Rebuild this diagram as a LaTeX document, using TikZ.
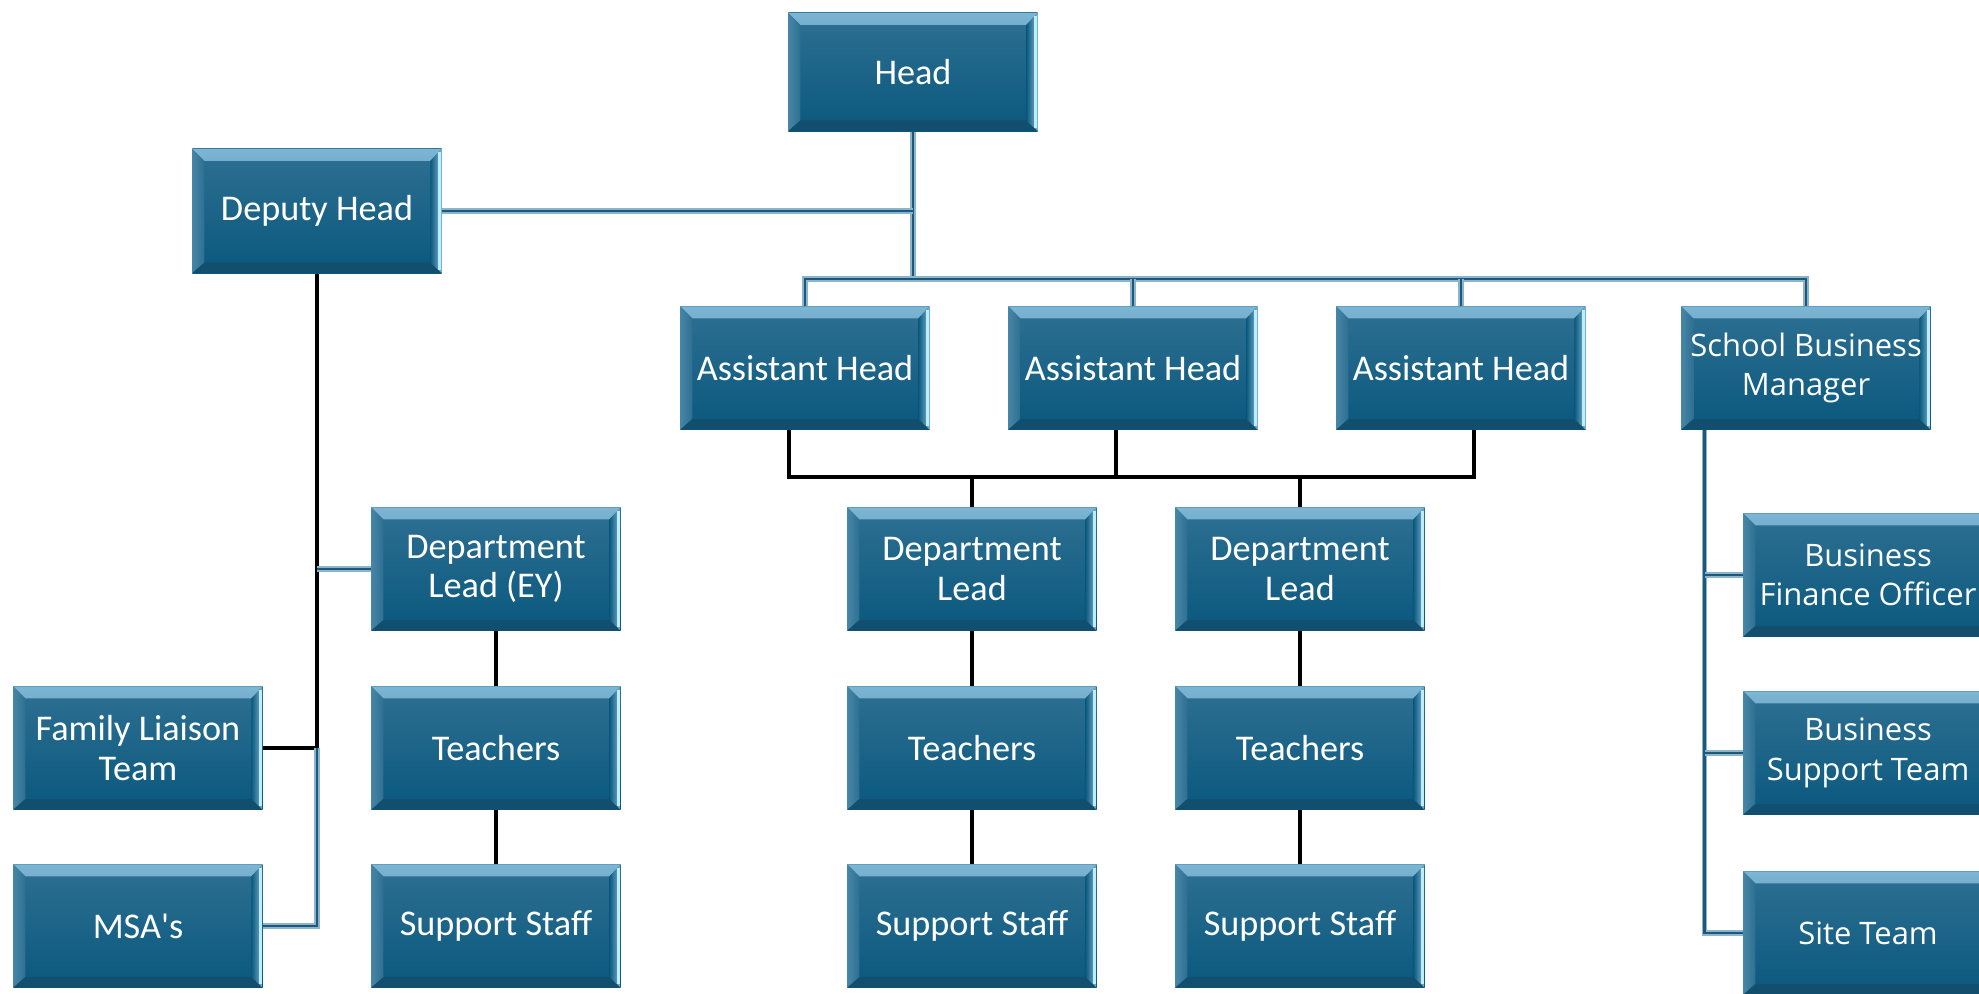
\documentclass[tikz,border=0pt]{standalone}
\usepackage{fontspec}
\newfontfamily\orgfont{Carlito}
\newfontfamily\sbmfont{Open Sans}

\definecolor{boxtop}{RGB}{46,112,146}
\definecolor{boxbot}{RGB}{10,88,126}
\definecolor{bevlight}{RGB}{125,182,212}
\definecolor{bevedge}{RGB}{190,236,248}
\definecolor{bevdark}{RGB}{18,78,110}
\definecolor{linkteal}{RGB}{28,88,124}
\definecolor{linkpale}{RGB}{140,180,202}

\tikzset{
  orgbox/.style={rectangle, minimum width=2.49cm, minimum height=1.23cm,
    inner sep=0pt, align=center, text=white,
    font=\orgfont\fontsize{10.3}{11.2}\selectfont,
    top color=boxtop, bottom color=boxbot,
    path picture={
      % top bevel
      \shade[top color=bevlight, bottom color=boxtop]
        (path picture bounding box.north west) -- (path picture bounding box.north east)
        -- ([xshift=-3.2pt,yshift=-3.4pt]path picture bounding box.north east)
        -- ([xshift=3.4pt,yshift=-3.4pt]path picture bounding box.north west) -- cycle;
      % left bevel
      \shade[left color=boxtop!70!bevlight, right color=boxtop]
        (path picture bounding box.north west) -- ([xshift=3.4pt,yshift=-3.4pt]path picture bounding box.north west)
        -- ([xshift=3.4pt,yshift=3pt]path picture bounding box.south west)
        -- (path picture bounding box.south west) -- cycle;
      % bottom bevel
      \fill[bevdark]
        (path picture bounding box.south west) -- (path picture bounding box.south east)
        -- ([xshift=-3.2pt,yshift=3pt]path picture bounding box.south east)
        -- ([xshift=3.4pt,yshift=3pt]path picture bounding box.south west) -- cycle;
      % right bevel
      \shade[left color=boxbot, right color=bevlight]
        (path picture bounding box.north east) -- (path picture bounding box.south east)
        -- ([xshift=-3.2pt,yshift=3pt]path picture bounding box.south east)
        -- ([xshift=-3.2pt,yshift=-3.4pt]path picture bounding box.north east) -- cycle;
      \draw[bevedge, line width=0.9pt]
        ([xshift=-0.6pt,yshift=-1pt]path picture bounding box.north east)
        -- ([xshift=-0.6pt,yshift=1pt]path picture bounding box.south east);
    }},
  sbmbox/.style={orgbox, font=\sbmfont\fontsize{8.8}{11.2}\selectfont},
  tealline/.style={draw=linkpale, double=linkteal, double distance=0.75pt, line width=0.35pt},
  blackline/.style={draw=black, line width=1.05pt},
}

\begin{document}
\begin{tikzpicture}[x=0.01cm, y=-0.01cm]
  \useasboundingbox (0,0) rectangle (1979,993);
  \clip (0,0) rectangle (1979,993);

  % top of the tree
  \node[orgbox, minimum height=1.18cm] (head) at (913,72) {Head};
  \node[orgbox, minimum height=1.24cm] (deputy) at (317,211) {Deputy Head};

  % assistant heads and business manager
  \node[orgbox] (ahA) at (805,368) {Assistant Head};
  \node[orgbox] (ahB) at (1133,368) {Assistant Head};
  \node[orgbox] (ahC) at (1461,368) {Assistant Head};
  \node[sbmbox] (sbm) at (1806,368) {School Business\\Manager};

  % department leads
  \node[orgbox] (dlEY) at (496,569) {Department\\Lead (EY)};
  \node[orgbox] (dlA) at (972,569) {Department\\Lead};
  \node[orgbox] (dlB) at (1300,569) {Department\\Lead};

  % teachers and support staff
  \node[orgbox] (tchEY) at (496,748) {Teachers};
  \node[orgbox] (tchA) at (972,748) {Teachers};
  \node[orgbox] (tchB) at (1300,748) {Teachers};
  \node[orgbox] (ssEY) at (496,926) {Support Staff};
  \node[orgbox] (ssA) at (972,926) {Support Staff};
  \node[orgbox] (ssB) at (1300,926) {Support Staff};

  % under the deputy
  \node[orgbox] (fam) at (138,748) {Family Liaison\\Team};
  \node[orgbox] (msa) at (138,926) {MSA's};

  % business side
  \node[sbmbox] (bfo) at (1868,575) {Business\\Finance Officer};
  \node[sbmbox] (bst) at (1868,753) {Business\\Support Team};
  \node[sbmbox] (site) at (1868,933) {Site Team};

  \coordinate (topbus) at (913,279);
  \coordinate (lowbus) at (789,477);

  % head links
  \draw[tealline] (head) -- (topbus);
  \draw[tealline] (deputy.east) -- (deputy.east -| head);
  \draw[tealline] (ahA.north) -- (ahA.north |- topbus) -- (sbm.north |- topbus) -- (sbm.north);
  \draw[tealline] (ahB.north) -- (ahB.north |- topbus);
  \draw[tealline] (ahC.north) -- (ahC.north |- topbus);

  % assistant heads to department leads
  \draw[blackline] ([xshift=-0.16cm]ahA.south) |- ([xshift=0.13cm]ahC.south |- lowbus) -- ([xshift=0.13cm]ahC.south);
  \draw[blackline] ([xshift=-0.17cm]ahB.south) -- ([xshift=-0.17cm]ahB.south |- lowbus);
  \draw[blackline] (dlA.north) -- (dlA.north |- lowbus);
  \draw[blackline] (dlB.north) -- (dlB.north |- lowbus);

  % columns
  \draw[blackline] (dlEY) -- (tchEY);
  \draw[blackline] (tchEY) -- (ssEY);
  \draw[blackline] (dlA) -- (tchA);
  \draw[blackline] (tchA) -- (ssA);
  \draw[blackline] (dlB) -- (tchB);
  \draw[blackline] (tchB) -- (ssB);

  % deputy branch
  \draw[blackline] (deputy.south) -- (deputy.south |- fam.east) -- (fam.east);
  \draw[tealline] (deputy.south |- fam.east) |- (msa.east);
  \draw[tealline] (deputy.south |- dlEY.west) -- (dlEY.west);

  % business branch
  \draw[tealline] ([xshift=0.24cm]sbm.south west) |- (site.west);
  \draw[tealline] ([xshift=0.24cm]sbm.south west |- bfo.west) -- (bfo.west);
  \draw[tealline] ([xshift=0.24cm]sbm.south west |- bst.west) -- (bst.west);
\end{tikzpicture}
\end{document}
